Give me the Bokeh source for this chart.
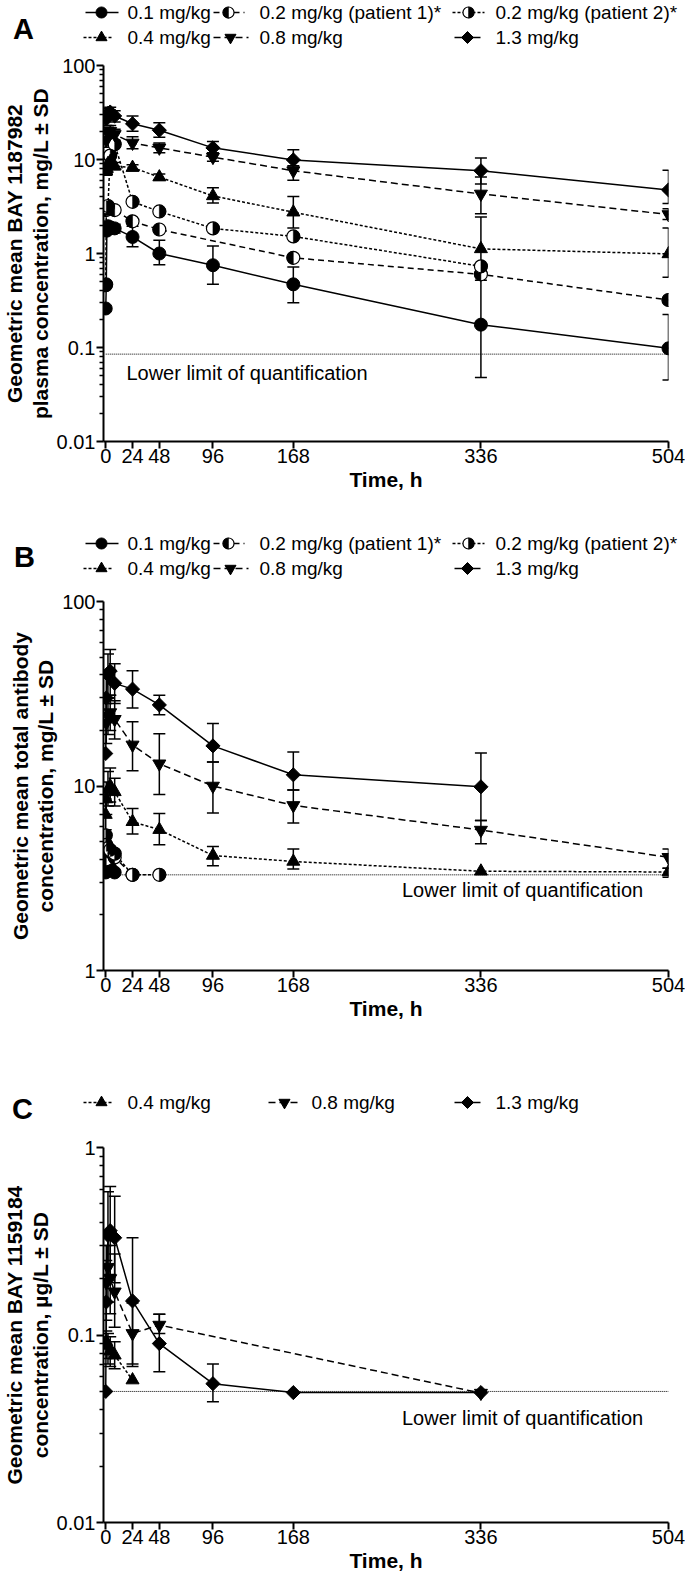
import math
from bokeh.plotting import figure
from bokeh.models import (Range1d, FixedTicker, CustomJSTickFormatter, ColumnDataSource,
                          Whisker, TeeHead, Label)
from bokeh.layouts import column
from bokeh.embed import file_html
from bokeh.resources import INLINE
from bokeh.core.properties import value

FONT = "Liberation Sans"
N = None
W = 685

TIME_TICKS = [0, 24, 48, 96, 168, 336, 504]
TIME_SPAN = [0, 504]
LLOQ_TEXT = "Lower limit of quantification"

LABELS = {
    "0.1": "0.1 mg/kg",
    "p1": "0.2 mg/kg (patient 1)*",
    "p2": "0.2 mg/kg (patient 2)*",
    "0.4": "0.4 mg/kg",
    "0.8": "0.8 mg/kg",
    "1.3": "1.3 mg/kg",
}

# ---------------- Panel A: BAY 1187982 plasma concentration (mg/L)
A_T_01 = [0, 0.5, 1, 2, 4, 8, 24, 48, 96, 168, 336, 504]
A_V_01 = [0.26, 0.47, 1.75, 1.95, 1.9, 1.85, 1.5, 1.0, 0.75, 0.47, 0.175, 0.098]
A_LO_01 = [N, N, 1.6, 1.75, 1.7, 1.65, 1.18, 0.76, 0.47, 0.30, 0.048, 0.045]
A_HI_01 = [N, N, 1.9, 2.15, 2.1, 2.05, 1.95, 1.38, 1.2, 0.72, 0.65, 0.225]

A_T_P1 = [0.5, 2, 4, 8, 24, 48, 168, 336, 504]
A_V_P1 = [2.9, 3.0, 3.0, 2.9, 2.2, 1.8, 0.9, 0.6, 0.32]

A_T_P2 = [0, 0.5, 2, 4, 8, 24, 48, 96, 168, 336]
A_V_P2 = [0.46, 3.1, 3.2, 11.0, 14.5, 3.55, 2.8, 1.85, 1.52, 0.73]

A_T_04 = [0.5, 1, 2, 4, 8, 24, 48, 96, 168, 336, 504]
A_V_04 = [7.5, 8.0, 9.0, 9.5, 8.5, 8.2, 6.5, 4.1, 2.75, 1.12, 0.99]
A_LO_04 = [6.8, 7.2, 8.0, 8.6, 7.8, 7.6, 6.0, 3.45, 1.87, 0.52, 0.56]
A_HI_04 = [8.3, 8.8, 10.0, 10.6, 9.3, 8.8, 7.0, 5.0, 4.05, 2.45, 1.87]

A_T_08 = [0.5, 2, 4, 8, 24, 48, 96, 168, 336, 504]
A_V_08 = [16.0, 19.0, 20.0, 18.5, 15.0, 13.3, 10.6, 7.6, 4.3, 2.6]
A_LO_08 = [13.5, 16.5, 17.5, 16.0, 13.0, 11.8, 9.6, 6.0, 2.65, 2.3]
A_HI_08 = [19.0, 22.0, 23.0, 21.0, 17.5, 15.0, 11.8, 8.6, 6.5, 3.0]

A_T_13 = [0.5, 2, 4, 8, 24, 48, 96, 168, 336, 504]
A_V_13 = [27.0, 31.0, 32.0, 29.0, 24.0, 20.5, 13.3, 9.9, 7.6, 4.75]
A_LO_13 = [23.0, 27.0, 28.0, 25.0, 20.0, 17.2, 11.5, 8.3, 5.5, 3.4]
A_HI_13 = [31.0, 35.0, 36.0, 33.0, 29.0, 24.6, 15.5, 12.7, 10.4, 7.7]

A_LLOQ = 0.085

# ---------------- Panel B: total antibody (mg/L)
B_T_01 = [0, 0.5, 2, 4, 8]
B_V_01 = [3.4, 3.7, 3.9, 3.6, 3.4]

B_T_P1 = [0.5, 2, 4, 8, 24]
B_V_P1 = [4.0, 4.6, 4.4, 4.1, 3.3]

B_T_P2 = [0, 0.5, 2, 4, 8, 24, 48]
B_V_P2 = [5.4, 4.8, 4.6, 4.5, 4.3, 3.3, 3.3]

B_T_04 = [0, 0.5, 2, 4, 8, 24, 48, 96, 168, 336, 504]
B_V_04 = [7.0, 8.5, 9.5, 10.0, 9.3, 6.4, 5.8, 4.2, 3.9, 3.45, 3.42]
B_LO_04 = [5.8, 7.0, 7.8, 8.2, 7.8, 5.5, 4.8, 3.7, 3.55, N, 3.2]
B_HI_04 = [8.5, 10.5, 12.0, 12.5, 11.0, 7.55, 7.1, 4.7, 4.55, N, 3.58]

B_T_08 = [0.5, 2, 4, 8, 24, 48, 96, 168, 336, 504]
B_V_08 = [22.0, 24.0, 25.0, 23.0, 16.7, 13.2, 10.0, 7.85, 5.77, 4.11]
B_LO_08 = [17.0, 19.0, 20.0, 18.0, 12.1, 9.0, 7.15, 6.3, 4.86, 3.58]
B_HI_08 = [28.0, 30.0, 31.0, 29.0, 22.3, 19.2, 13.5, 9.5, 6.5, 4.55]

B_T_13 = [0, 0.5, 2, 4, 8, 24, 48, 96, 168, 336]
B_V_13 = [15.0, 30.0, 40.0, 42.0, 36.0, 33.5, 27.5, 16.5, 11.5, 9.9]
B_LO_13 = [N, 22.0, 30.0, 31.0, 28.0, 26.5, 24.3, 13.5, 9.5, 6.5]
B_HI_13 = [N, 40.0, 52.0, 55.0, 46.0, 42.2, 31.0, 21.8, 15.3, 15.1]

B_LLOQ = 3.3

# ---------------- Panel C: BAY 1159184 (ug/L)
C_T_04 = [0.5, 2, 4, 8, 24]
C_V_04 = [0.092, 0.088, 0.082, 0.078, 0.0575]
C_LO_04 = [0.075, 0.070, 0.068, 0.066, N]
C_HI_04 = [0.105, 0.102, 0.098, 0.092, N]

C_T_08 = [0.5, 2, 4, 8, 24, 48, 336]
C_V_08 = [0.19, 0.23, 0.20, 0.17, 0.102, 0.113, 0.049]
C_LO_08 = [0.12, 0.15, 0.13, 0.11, 0.070, 0.102, N]
C_HI_08 = [0.30, 0.34, 0.30, 0.27, 0.148, 0.129, N]

C_T_13 = [0, 0.5, 2, 4, 8, 24, 48, 96, 168, 336]
C_V_13 = [0.05, 0.15, 0.34, 0.36, 0.33, 0.152, 0.090, 0.055, 0.0493, 0.0493]
C_LO_13 = [N, 0.09, 0.20, 0.21, 0.19, 0.068, 0.0636, 0.044, N, N]
C_HI_13 = [N, 0.25, 0.58, 0.62, 0.55, 0.33, 0.129, 0.070, N, N]

C_LLOQ = 0.05

# ---------------- styling
STYLE = {
    "0.1": dict(marker="circle", dash="solid", size=13),
    "p1": dict(marker="half", side="left", dash="6 4", size=13),
    "p2": dict(marker="half", side="right", dash="3 2", size=13),
    "0.4": dict(marker="triangle", dash="3 2", size=13),
    "0.8": dict(marker="inverted_triangle", dash="7 4", size=13),
    "1.3": dict(marker="diamond", dash="solid", size=10),
}


def draw_marker(p, key, x, y, scale=1.0):
    st = STYLE[key]
    if st["marker"] == "half":
        s = st["size"] * scale
        p.scatter(x=x, y=y, marker="circle", size=s, fill_color="white",
                  line_color="black", line_width=1.2)
        if st["side"] == "left":
            a0, a1 = math.pi / 2, 3 * math.pi / 2
        else:
            a0, a1 = -math.pi / 2, math.pi / 2
        p.wedge(x=x, y=y, radius=s / 2, radius_units="screen", start_angle=a0,
                end_angle=a1, fill_color="black", line_color="black", line_width=0.5)
    elif st["marker"] == "diamond":
        p.scatter(x=x, y=y, marker="square", angle=math.pi / 4, size=st["size"] * scale,
                  fill_color="black", line_color="black")
    else:
        p.scatter(x=x, y=y, marker=st["marker"], size=st["size"] * scale,
                  fill_color="black", line_color="black")


def add_series(p, key, t, v, lo=None, hi=None):
    st = STYLE[key]
    p.line(x=t, y=v, line_color="black", line_width=1.5, line_dash=st["dash"])
    if lo is not None:
        xs, los, his = [], [], []
        for ti, l, h in zip(t, lo, hi):
            if l is not None:
                xs.append(ti); los.append(l); his.append(h)
        src = ColumnDataSource(dict(x=xs, lo=los, hi=his))
        p.add_layout(Whisker(source=src, base="x", lower="lo", upper="hi",
                             dimension="height", line_color="black", line_width=1.5,
                             upper_head=TeeHead(size=12, line_width=1.5, line_color="black"),
                             lower_head=TeeHead(size=12, line_width=1.5, line_color="black")))
    draw_marker(p, key, t, v)


def make_main(height, top, y0, y1, ylabel, lloq, lloq_xy):
    p = figure(width=W, height=height, x_range=Range1d(-2, 504), y_range=Range1d(y0, y1),
               y_axis_type="log", toolbar_location=None, output_backend="svg",
               min_border_left=100, min_border_right=17, min_border_top=top,
               min_border_bottom=58)
    p.grid.visible = False
    p.outline_line_color = None
    decs = []
    d = y0
    while d <= y1 * 1.0001:
        decs.append(d)
        d *= 10
    decs = [float("%g" % x) for x in decs]
    minors = [float("%g" % (k * x)) for x in decs[:-1] for k in range(2, 10)]
    p.yaxis.ticker = FixedTicker(ticks=decs, minor_ticks=minors)
    p.yaxis.formatter = CustomJSTickFormatter(code="return String(tick);")
    p.xaxis.ticker = FixedTicker(ticks=TIME_TICKS, minor_ticks=[])
    for ax in p.axis:
        ax.axis_line_width = 2
        ax.axis_line_color = "black"
        ax.major_tick_line_width = 2
        ax.minor_tick_line_width = 1.5
        ax.major_tick_in = 0
        ax.minor_tick_in = 0
        ax.major_tick_out = 7
        ax.minor_tick_out = 4
        ax.major_label_text_font = FONT
        ax.major_label_text_font_size = "20px"
        ax.major_label_text_color = "black"
        ax.major_label_standoff = 0
        ax.axis_label_text_font = FONT
        ax.axis_label_text_font_style = "bold"
        ax.axis_label_text_font_size = "21px"
        ax.axis_label_text_color = "black"
        ax.axis_label_standoff = 2
    p.yaxis.axis_label = ylabel
    p.yaxis.axis_label_text_line_height = 1.1
    p.yaxis.major_label_standoff = 1
    p.xaxis.axis_label = "Time, h"
    p.line(x=TIME_SPAN, y=[lloq, lloq], line_color="black", line_width=1, line_dash="1 1")
    p.add_layout(Label(x=lloq_xy[0], y=lloq_xy[1], text=LLOQ_TEXT, text_font=FONT,
                       text_font_size="20px", text_baseline="middle", text_color="black"))
    return p


def make_legend(height, rows, letter, letter_xy):
    p = figure(width=W, height=height, x_range=Range1d(0, W), y_range=Range1d(height, 0),
               toolbar_location=None, output_backend="svg", min_border=0,
               x_axis_location=None, y_axis_location=None, frame_align=False)
    p.grid.visible = False
    p.outline_line_color = None
    for key, x0, x1, xm, xt, y in rows:
        st = STYLE[key]
        p.line(x=[x0, x1], y=[y, y], line_color="black", line_width=1.5, line_dash=st["dash"])
        draw_marker(p, key, [xm], [y], scale=0.85)
        p.text(x=[xt], y=[y], text=[LABELS[key]], text_font=value(FONT),
               text_font_size="19px", text_baseline="middle", text_align="left",
               text_color="black")
    p.text(x=[letter_xy[0]], y=[letter_xy[1]], text=[letter], text_font=value(FONT),
           text_font_size="29px", text_font_style="bold", text_baseline="middle",
           text_align="center", text_color="black")
    return p


def six_rows(r1, r2):
    return [("0.1", 85, 118, 101, 127, r1), ("p1", 213, 244, 228, 259, r1),
            ("p2", 452, 484, 468, 495, r1), ("0.4", 83, 113, 101, 127, r2),
            ("0.8", 213, 248, 230, 259, r2), ("1.3", 454, 480, 467, 495, r2)]


# Panel A
legA = make_legend(55, six_rows(12, 37), "A", (23, 28))
pA = make_main(444, 10, 0.01, 100,
               "Geometric mean BAY 1187982\nplasma concentration, mg/L \u00b1 SD",
               A_LLOQ, (18.5, 0.053))
add_series(pA, "p1", A_T_P1, A_V_P1)
add_series(pA, "p2", A_T_P2, A_V_P2)
add_series(pA, "0.1", A_T_01, A_V_01, A_LO_01, A_HI_01)
add_series(pA, "0.4", A_T_04, A_V_04, A_LO_04, A_HI_04)
add_series(pA, "0.8", A_T_08, A_V_08, A_LO_08, A_HI_08)
add_series(pA, "1.3", A_T_13, A_V_13, A_LO_13, A_HI_13)

# Panel B
legB = make_legend(90, six_rows(44, 69), "B", (24, 57))
pB = make_main(439, 12, 1, 100,
               "Geometric mean total antibody\nconcentration, mg/L \u00b1 SD",
               B_LLOQ, (265.3, 2.72))
add_series(pB, "0.1", B_T_01, B_V_01)
add_series(pB, "p1", B_T_P1, B_V_P1)
add_series(pB, "p2", B_T_P2, B_V_P2)
add_series(pB, "0.4", B_T_04, B_V_04, B_LO_04, B_HI_04)
add_series(pB, "0.8", B_T_08, B_V_08, B_LO_08, B_HI_08)
add_series(pB, "1.3", B_T_13, B_V_13, B_LO_13, B_HI_13)

# Panel C
legC = make_legend(109, [("0.4", 83, 113, 101, 127, 74), ("0.8", 268, 300, 284, 311, 74),
                         ("1.3", 454, 480, 467, 495, 74)], "C", (22, 80))
pC = make_main(443, 10, 0.01, 1,
               "Geometric mean BAY 1159184\nconcentration, \u00b5g/L \u00b1 SD",
               C_LLOQ, (265.3, 0.036))
add_series(pC, "0.4", C_T_04, C_V_04, C_LO_04, C_HI_04)
add_series(pC, "0.8", C_T_08, C_V_08, C_LO_08, C_HI_08)
add_series(pC, "1.3", C_T_13, C_V_13, C_LO_13, C_HI_13)

layout = column(legA, pA, legB, pB, legC, pC, spacing=0)
open("out.html", "w").write(file_html(layout, INLINE))
